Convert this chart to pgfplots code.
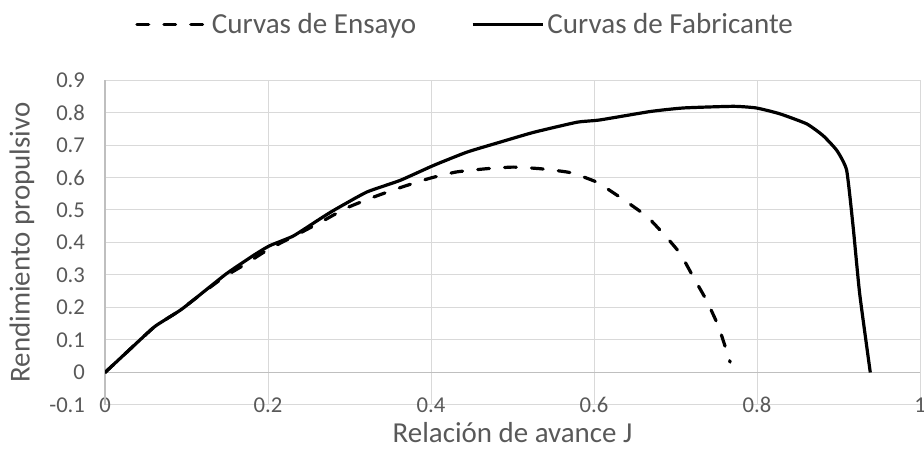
\documentclass[border=0pt]{standalone}
\usepackage{pgfplots}
\pgfplotsset{compat=1.18}
\usepackage{fontspec}
\setmainfont{Carlito}
\definecolor{txt}{HTML}{595959}
\definecolor{gridc}{HTML}{D9D9D9}
\definecolor{axc}{HTML}{BFBFBF}

\begin{document}
\begin{tikzpicture}
\path[use as bounding box] (0,0) rectangle (693pt,336.75pt);
\begin{axis}[
    at={(78.75pt,33pt)}, anchor=south west,
    width=611.25pt, height=243.75pt, scale only axis,
    xmin=0, xmax=1, ymin=-0.1, ymax=0.9,
    xtick={0,0.2,0.4,0.6,0.8,1},
    ytick={-0.1,0,0.1,0.2,0.3,0.4,0.5,0.6,0.7,0.8,0.9},
    xticklabels={0,0.2,0.4,0.6,0.8,1},
    yticklabels={-0.1,0,0.1,0.2,0.3,0.4,0.5,0.6,0.7,0.8,0.9},
    major tick length=0pt,
    axis line style={draw=none},
    grid=major,
    grid style={gridc, line width=0.75pt},
    extra x ticks={0}, extra x tick labels={},
    extra y ticks={0}, extra y tick labels={},
    extra tick style={grid style={axc, line width=0.9pt}},
    tick label style={font=\fontsize{17}{20}\selectfont, text=txt},
    xticklabel style={anchor=center},
    yticklabel style={anchor=east, xshift=-11.5pt},
    xlabel={Relación de avance J},
    ylabel={Rendimiento propulsivo},
    label style={font=\fontsize{21.7}{26}\selectfont, text=txt},
    xlabel style={at={(axis description cs:0.5,-0.114)}, anchor=base},
    ylabel style={at={(axis description cs:-0.102,0.5)}, anchor=center},
    legend style={at={(axis description cs:0.4423,1.172)}, anchor=center,
        draw=none, fill=none, font=\fontsize{21.8}{26}\selectfont, text=txt,
        /tikz/every even column/.append style={column sep=39pt}},
    legend columns=2,
    legend image code/.code={\draw[#1] (0pt,0pt) -- (53pt,0pt);},
]
\addplot[black, line width=2.4pt, line cap=round, dash pattern=on 8.8pt off 11.4pt, smooth, tension=0.3]
coordinates {
(0,0) (0.051,0.119) (0.063,0.145) (0.092,0.191) (0.108,0.222) (0.145,0.292)
(0.17,0.33) (0.2,0.378) (0.24,0.43)
(0.27,0.47) (0.297,0.507) (0.333,0.543) (0.366,0.572) (0.399,0.598) (0.431,0.617)
(0.468,0.627) (0.501,0.632) (0.534,0.627) (0.571,0.615) (0.603,0.586) (0.632,0.539)
(0.665,0.48) (0.689,0.416) (0.706,0.365) (0.722,0.293) (0.738,0.222) (0.753,0.14)
(0.767,0.032)
};
\addlegendentry{Curvas de Ensayo}
\addplot[black, line width=2.4pt, smooth, tension=0.3]
coordinates {
(0,0) (0.051,0.119) (0.063,0.145) (0.092,0.191) (0.108,0.222) (0.149,0.304)
(0.182,0.36) (0.202,0.39) (0.231,0.42) (0.264,0.473) (0.28,0.498) (0.321,0.555)
(0.362,0.591) (0.403,0.637) (0.444,0.678) (0.485,0.709) (0.526,0.739) (0.579,0.770)
(0.607,0.777) (0.669,0.803) (0.710,0.814) (0.771,0.819) (0.799,0.814) (0.828,0.796)
(0.861,0.765) (0.881,0.729) (0.898,0.683) (0.910,0.622) (0.918,0.447) (0.926,0.242)
(0.939,0)
};
\addlegendentry{Curvas de Fabricante}
\end{axis}
\end{tikzpicture}
\end{document}
